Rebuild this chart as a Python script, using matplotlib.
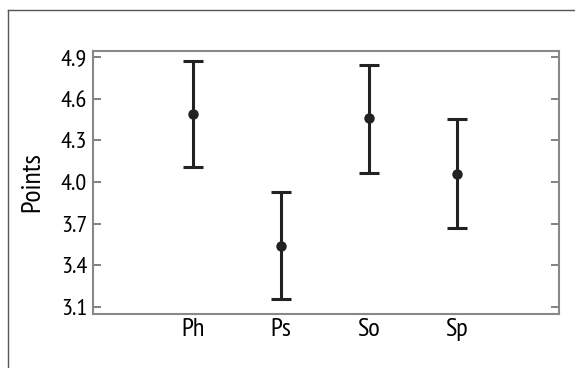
import matplotlib
matplotlib.use('Agg')
import matplotlib.pyplot as plt
from matplotlib.lines import Line2D
import numpy as np

groups = ['Ph', 'Ps', 'So', 'Sp']
means = [4.49, 3.54, 4.46, 4.06]
upper = [4.875, 3.928, 4.844, 4.453]
lower = [4.106, 3.158, 4.067, 3.671]
yticks = [3.1, 3.4, 3.7, 4.0, 4.3, 4.6, 4.9]

plt.rcParams['font.family'] = ['PT Sans Narrow', 'Open Sans Condensed', 'DejaVu Sans']

fig = plt.figure(figsize=(5.75, 3.68), dpi=100)
W, H = 575, 368
ax = fig.add_axes([92.7 / W, 1 - 314 / H, (559 - 92.7) / W, (314 - 51) / H])

x = np.arange(1, len(groups) + 1)
m = np.array(means)
yerr = [m - np.array(lower), np.array(upper) - m]
ax.errorbar(x, m, yerr=yerr, fmt='o', color='#222222', ecolor='#222222',
            elinewidth=2.2, capsize=7, capthick=2.2, markersize=6.5)

ax.set_xlim(-0.14, 5.16)
ax.set_ylim(3.047, 4.945)
ax.set_xticks(x)
ax.set_xticklabels(groups, fontsize=19)
ax.set_yticks(yticks)
ax.set_yticklabels([f'{v:.1f}' for v in yticks], fontsize=17.5)
ax.tick_params(axis='x', length=0, pad=3)
ax.tick_params(axis='y', direction='in', length=6, width=1.3, color='#777777',
               right=True, pad=4)
for s in ax.spines.values():
    s.set_color('#888888')
    s.set_linewidth(1.5)
ax.set_ylabel('Points', fontsize=20)
ax.yaxis.set_label_coords(-0.104, 0.5)

# outer frame (left and top edges)
fig.add_artist(Line2D([8 / W, 8 / W], [0, 1 - 10 / H], transform=fig.transFigure,
                      color='#555555', linewidth=1))
fig.add_artist(Line2D([8 / W, 1], [1 - 10 / H, 1 - 10 / H], transform=fig.transFigure,
                      color='#555555', linewidth=1))

fig.savefig('out.png', dpi=100)
